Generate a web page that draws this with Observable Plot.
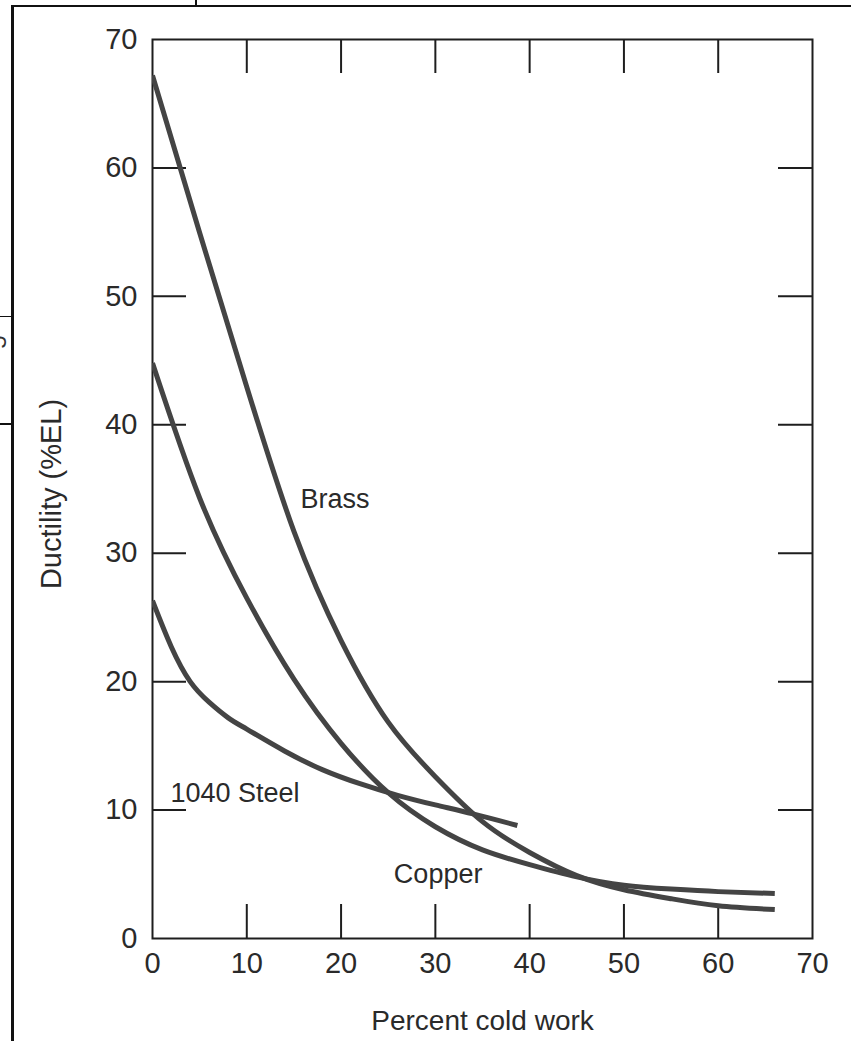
<!DOCTYPE html>
<html>
<head>
<meta charset="utf-8">
<script src="https://cdn.jsdelivr.net/npm/d3@7"></script>
<script src="https://cdn.jsdelivr.net/npm/@observablehq/plot@0.6"></script>
<style>
  html, body { margin: 0; padding: 0; background: #fff; }
  #wrap { position: relative; width: 851px; height: 1041px; overflow: hidden; background: #fff; }
  #wrap svg { position: absolute; left: 0; top: 0; }
  .edge { position: absolute; background: #111; }
  .cut5 { position: absolute; left: -9px; top: 328px; font: 24px "Liberation Sans", Arial, sans-serif; color: #333; transform: rotate(-90deg); }
</style>
</head>
<body>
<div id="wrap">
  <div class="edge" style="left:11px; top:5px; width:3px; height:1036px;"></div>
  <div class="edge" style="left:11px; top:5px; width:840px; height:2px;"></div>
  <div class="edge" style="left:195px; top:0px; width:2px; height:6px;"></div>
  <div class="edge" style="left:0px; top:316px; width:12px; height:1px;"></div>
  <div class="edge" style="left:0px; top:423px; width:12px; height:2px;"></div>
  <span class="cut5">5</span>
</div>
<script>
// ---- data ----
const brassWork  = [0, 5, 10, 15, 20, 25, 30, 35, 40, 45, 50, 55, 60, 66];
const brassDuct  = [67.2, 54.95, 42.95, 31.7, 23.2, 16.85, 12.6, 9.1, 6.7, 4.9, 3.8, 3.1, 2.55, 2.25];

const copperWork = [0, 5, 10, 15, 20, 25, 30, 35, 40, 45, 50, 55, 60, 66];
const copperDuct = [44.8, 34.3, 26.5, 20.2, 15.2, 11.35, 8.7, 6.9, 5.75, 4.8, 4.15, 3.85, 3.65, 3.5];

const steelWork  = [0, 2, 4, 6, 8, 10, 14, 18, 22, 26, 30, 34, 38.7];
const steelDuct  = [26.3, 22.7, 20.0, 18.4, 17.2, 16.3, 14.6, 13.15, 12.05, 11.15, 10.4, 9.7, 8.8];

const seriesNames = ["Brass", "Copper", "1040 Steel"];
const labelNames  = ["Brass", "1040 Steel", "Copper"];
const labelWork   = [15.7, 1.9, 25.6];
const labelDuct   = [34.2, 11.3, 5.0];

const xTickLabels = [0, 10, 20, 30, 40, 50, 60, 70];
const yTickLabels = [0, 10, 20, 30, 40, 50, 60, 70];
const innerTicks  = [10, 20, 30, 40, 50, 60];

const xTitle = "Percent cold work";
const yTitle = "Ductility (%EL)";

// ---- build tables ----
const toRows = (name, xs, ys) => xs.map((x, i) => ({series: name, work: x, ductility: ys[i]}));
const curves = [
  toRows(seriesNames[0], brassWork, brassDuct),
  toRows(seriesNames[1], copperWork, copperDuct),
  toRows(seriesNames[2], steelWork, steelDuct)
];
const labels = labelNames.map((t, i) => ({text: t, work: labelWork[i], ductility: labelDuct[i]}));

// ---- layout ----
const W = 851, H = 1041;
const mL = 152, mR = 39, mT = 39, mB = 103;
const innerW = W - mL - mR, innerH = H - mT - mB;
const tickLen = 34;
const ink = "#1e1e1e";
const curveInk = "#444";
const textInk = "#2a2a2a";

const chart = Plot.plot({
  width: W,
  height: H,
  marginLeft: mL,
  marginRight: mR,
  marginTop: mT,
  marginBottom: mB,
  style: {background: "#fff", color: textInk, fontFamily: "'Liberation Sans', Arial, sans-serif", fontSize: "27px"},
  x: {domain: [0, 70]},
  y: {domain: [0, 70]},
  marks: [
    Plot.frame({stroke: ink, strokeWidth: 2}),
    Plot.tickX(innerTicks, {x: d => d, insetTop: innerH - tickLen, stroke: ink, strokeWidth: 2}),
    Plot.tickX(innerTicks, {x: d => d, insetBottom: innerH - tickLen, stroke: ink, strokeWidth: 2}),
    Plot.tickY(innerTicks, {y: d => d, insetRight: innerW - tickLen, stroke: ink, strokeWidth: 2}),
    Plot.tickY(innerTicks, {y: d => d, insetLeft: innerW - tickLen, stroke: ink, strokeWidth: 2}),
    Plot.axisX(xTickLabels, {tickSize: 0, tickPadding: 14, label: null, fontSize: 29}),
    Plot.axisY(yTickLabels, {tickSize: 0, tickPadding: 15, label: null, fontSize: 29}),
    ...curves.map(rows => Plot.line(rows, {x: "work", y: "ductility", curve: "natural", stroke: curveInk, strokeWidth: 5, strokeLinecap: "butt", clip: true})),
    Plot.text(labels, {x: "work", y: "ductility", text: "text", textAnchor: "start", fill: textInk, fontSize: 27}),
    Plot.text([xTitle], {text: d => d, frameAnchor: "bottom", textAnchor: "middle", dy: 91, fill: textInk, fontSize: 28}),
    Plot.text([yTitle], {text: d => d, frameAnchor: "left", textAnchor: "middle", rotate: -90, dx: -101, dy: 5, fill: textInk, fontSize: 29})
  ]
});

const wrap = document.getElementById("wrap");
wrap.insertBefore(chart, wrap.firstChild);
</script>
</body>
</html>
